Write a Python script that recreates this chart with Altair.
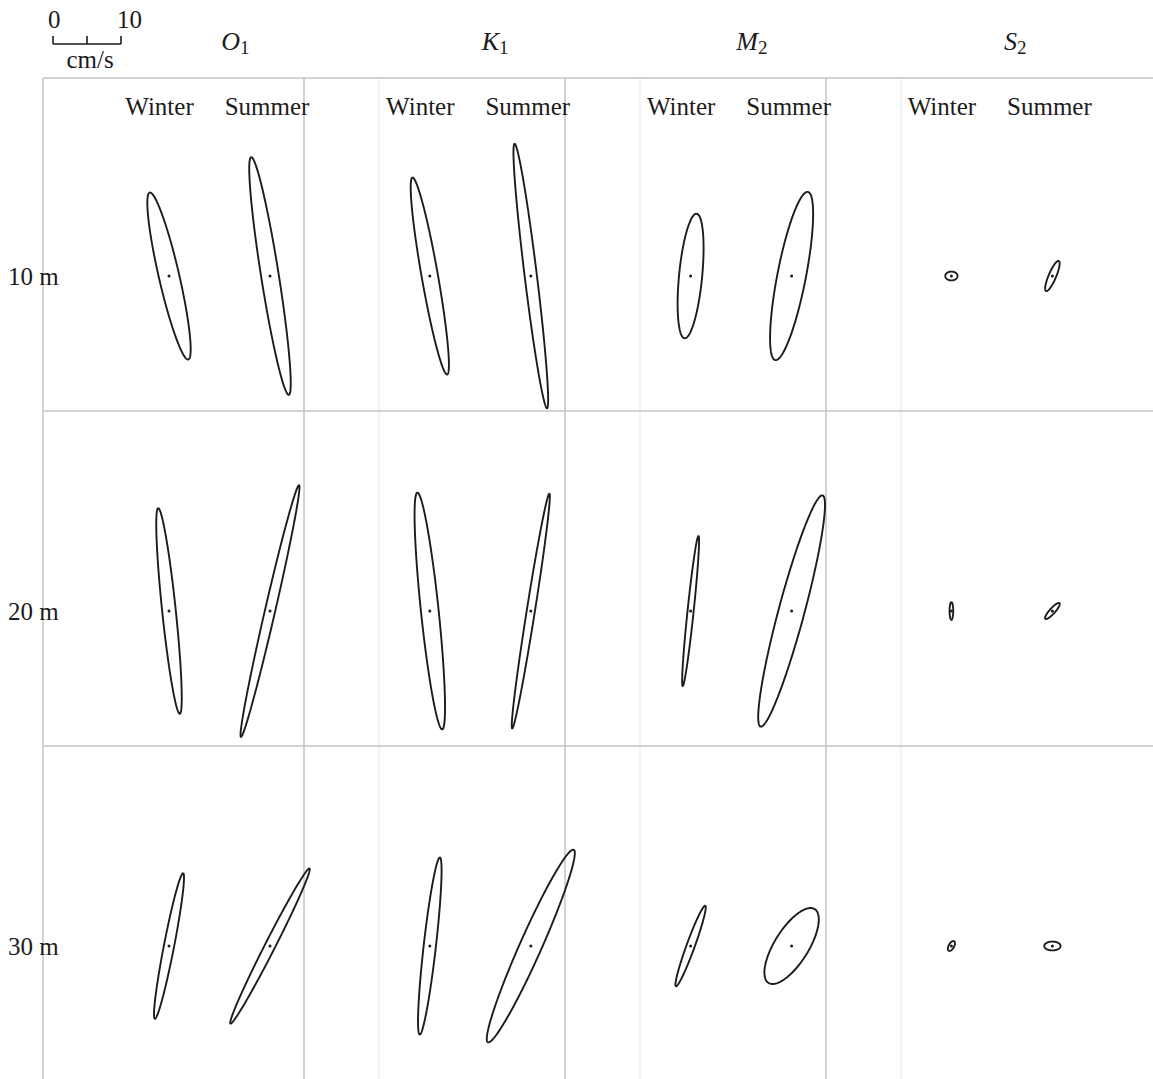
import altair as alt
import pandas as pd

# ---------------------------------------------------------------------------
# Tidal current ellipses: O1, K1, M2, S2 at 10, 20 and 30 m, winter vs summer
# ---------------------------------------------------------------------------
constituents = ["O1", "K1", "M2", "S2"]
title_letters = ["O", "K", "M", "S"]
title_subscripts = ["1", "1", "2", "2"]
depths = ["10 m", "20 m", "30 m"]
seasons = ["Winter", "Summer"]

# semi-major axis (cm/s); rows = depth, columns = O1, K1, M2, S2
major_winter = [
    [12.6, 14.7, 9.2, 0.9],
    [15.2, 17.5, 11.1, 1.3],
    [10.9, 13.1, 6.3, 0.8],
]
major_summer = [
    [17.7, 19.6, 12.6, 2.4],
    [19.0, 17.5, 17.6, 1.55],
    [12.8, 15.5, 6.4, 1.2],
]
# semi-minor axis (cm/s)
minor_winter = [
    [1.5, 1.2, 1.7, 0.65],
    [1.0, 1.3, 0.45, 0.27],
    [0.75, 0.9, 0.6, 0.4],
]
minor_summer = [
    [1.3, 0.9, 2.1, 0.55],
    [0.75, 0.6, 1.9, 0.4],
    [0.75, 1.6, 2.5, 0.65],
]
# inclination of the major axis (degrees, counter-clockwise from east)
incl_winter = [
    [103, 100, 84.5, 0],
    [96, 96, 84, 90],
    [79, 83.5, 70, 61],
]
incl_summer = [
    [99, 97, 79, 67],
    [77, 81, 75, 48],
    [63, 66, 58, 0],
]

# scale bar ticks (cm/s)
scale_ticks = [0, 5, 10]
scale_labels = ["0", "10"]

# ---------------------------------------------------------------------------
# layout (pixels, converted to cm/s so that everything shares one scale)
# ---------------------------------------------------------------------------
W, H = 1153, 1079
PX_PER_CMS = 6.8


def u(px):
    return px / PX_PER_CMS


COL0, COL_STEP, SEASON_STEP = 169.0, 260.8, 101.0
ROW0, ROW_STEP = 276.0, 335.0
GRID_LEFT, GRID_TOP = 43.0, 78.0
INK = "#1e1b1c"
FONT = "Liberation Serif"

xs = alt.Scale(domain=[0, u(W)], nice=False, zero=False)
ys = alt.Scale(domain=[0, u(H)], nice=False, zero=False, reverse=True)

# ellipse parameter table
rows = []
for r, depth in enumerate(depths):
    for i, c in enumerate(constituents):
        for s, season in enumerate(seasons):
            maj = (major_winter, major_summer)[s][r][i]
            mnr = (minor_winter, minor_summer)[s][r][i]
            inc = (incl_winter, incl_summer)[s][r][i]
            rows.append(
                dict(
                    id=f"{c}-{depth}-{season}",
                    constituent=c,
                    depth=depth,
                    season=season,
                    major=maj,
                    minor=mnr,
                    inc=inc,
                    cx=u(COL0 + i * COL_STEP + s * SEASON_STEP),
                    cy=u(ROW0 + r * ROW_STEP),
                )
            )
ell = pd.DataFrame(rows)

outline = (
    alt.Chart(ell)
    .transform_calculate(t="sequence(0, 361, 2)")
    .transform_flatten(["t"])
    .transform_calculate(
        ph="datum.t * PI / 180",
        ang="datum.inc * PI / 180",
    )
    .transform_calculate(
        ex="datum.cx + datum.major * cos(datum.ph) * cos(datum.ang)"
        " - datum.minor * sin(datum.ph) * sin(datum.ang)",
        ey="datum.cy - (datum.major * cos(datum.ph) * sin(datum.ang)"
        " + datum.minor * sin(datum.ph) * cos(datum.ang))",
    )
    .mark_line(color=INK, strokeWidth=1.9, interpolate="linear")
    .encode(
        x=alt.X("ex:Q", scale=xs, axis=None),
        y=alt.Y("ey:Q", scale=ys, axis=None),
        detail="id:N",
        order="t:Q",
    )
)

centers = (
    alt.Chart(ell)
    .mark_circle(color=INK, opacity=1, size=9)
    .encode(x=alt.X("cx:Q", scale=xs, axis=None), y=alt.Y("cy:Q", scale=ys, axis=None))
)

# grid lines
vlines = pd.DataFrame(
    {
        "x": [u(GRID_LEFT + k * 261.0) for k in range(4)],
        "y": u(GRID_TOP),
        "y2": u(H),
    }
)
vfaint = pd.DataFrame(
    {
        "x": [u(379.0 + k * 261.0) for k in range(3)],
        "y": u(GRID_TOP),
        "y2": u(H),
    }
)
hlines = pd.DataFrame(
    {
        "y": [u(GRID_TOP), u(ROW0 + 135.0), u(ROW0 + ROW_STEP + 135.0)],
        "x": u(GRID_LEFT),
        "x2": u(W),
    }
)

faint_rules = (
    alt.Chart(vfaint)
    .mark_rule(color="#efefef", strokeWidth=1.5)
    .encode(x=alt.X("x:Q", scale=xs, axis=None), y=alt.Y("y:Q", scale=ys, axis=None), y2="y2:Q")
)
v_rules = (
    alt.Chart(vlines)
    .mark_rule(color="#c4c4c4", strokeWidth=1.5)
    .encode(x=alt.X("x:Q", scale=xs, axis=None), y=alt.Y("y:Q", scale=ys, axis=None), y2="y2:Q")
)
h_rules = (
    alt.Chart(hlines)
    .mark_rule(color="#c4c4c4", strokeWidth=1.5)
    .encode(x=alt.X("x:Q", scale=xs, axis=None), x2="x2:Q", y=alt.Y("y:Q", scale=ys, axis=None))
)

# season labels above each pair of ellipses
season_rows = []
for i in range(len(constituents)):
    season_rows.append(dict(label="Winter", x=u(COL0 + i * COL_STEP - 9.5), y=u(115)))
    season_rows.append(dict(label="Summer", x=u(COL0 + i * COL_STEP + SEASON_STEP - 3.0), y=u(115)))
season_text = (
    alt.Chart(pd.DataFrame(season_rows))
    .mark_text(font=FONT, fontSize=25, color=INK, align="center", baseline="alphabetic")
    .encode(x=alt.X("x:Q", scale=xs, axis=None), y=alt.Y("y:Q", scale=ys, axis=None), text="label:N")
)

# depth labels on the left
depth_text = (
    alt.Chart(
        pd.DataFrame(
            {"label": depths, "x": u(8), "y": [u(ROW0 + r * ROW_STEP + 9) for r in range(3)]}
        )
    )
    .mark_text(font=FONT, fontSize=25, color=INK, align="left", baseline="alphabetic")
    .encode(x=alt.X("x:Q", scale=xs, axis=None), y=alt.Y("y:Q", scale=ys, axis=None), text="label:N")
)

# constituent titles: italic letter with an upright subscript
title_x = [u(240 + i * 259.0) for i in range(4)]
title_letter = (
    alt.Chart(pd.DataFrame({"label": title_letters, "x": title_x, "y": u(50)}))
    .mark_text(font=FONT, fontSize=26, fontStyle="italic", color=INK, align="right", baseline="alphabetic")
    .encode(x=alt.X("x:Q", scale=xs, axis=None), y=alt.Y("y:Q", scale=ys, axis=None), text="label:N")
)
title_sub = (
    alt.Chart(pd.DataFrame({"label": title_subscripts, "x": title_x, "y": u(54)}))
    .mark_text(font=FONT, fontSize=19, color=INK, align="left", baseline="alphabetic")
    .encode(x=alt.X("x:Q", scale=xs, axis=None), y=alt.Y("y:Q", scale=ys, axis=None), text="label:N")
)

# scale bar: 0-10 cm/s
BAR_X0, BAR_Y = u(53), u(44)
bar_line = (
    alt.Chart(pd.DataFrame({"x": [BAR_X0 + scale_ticks[0]], "x2": [BAR_X0 + scale_ticks[-1]], "y": [BAR_Y]}))
    .mark_rule(color=INK, strokeWidth=1.6)
    .encode(x=alt.X("x:Q", scale=xs, axis=None), x2="x2:Q", y=alt.Y("y:Q", scale=ys, axis=None))
)
bar_ticks = (
    alt.Chart(
        pd.DataFrame({"x": [BAR_X0 + t for t in scale_ticks], "y": BAR_Y - u(8), "y2": BAR_Y})
    )
    .mark_rule(color=INK, strokeWidth=1.6)
    .encode(x=alt.X("x:Q", scale=xs, axis=None), y=alt.Y("y:Q", scale=ys, axis=None), y2="y2:Q")
)
bar_labels = (
    alt.Chart(
        pd.DataFrame(
            {
                "label": scale_labels,
                "x": [BAR_X0 + scale_ticks[0] - u(5), BAR_X0 + scale_ticks[-1] - u(4)],
                "y": u(28),
            }
        )
    )
    .mark_text(font=FONT, fontSize=25, color=INK, align="left", baseline="alphabetic")
    .encode(x=alt.X("x:Q", scale=xs, axis=None), y=alt.Y("y:Q", scale=ys, axis=None), text="label:N")
)
bar_unit = (
    alt.Chart(pd.DataFrame({"label": ["cm/s"], "x": [BAR_X0 + scale_ticks[1] + u(3)], "y": [u(68)]}))
    .mark_text(font=FONT, fontSize=25, color=INK, align="center", baseline="alphabetic")
    .encode(x=alt.X("x:Q", scale=xs, axis=None), y=alt.Y("y:Q", scale=ys, axis=None), text="label:N")
)

chart = (
    alt.layer(
        faint_rules,
        v_rules,
        h_rules,
        outline,
        centers,
        season_text,
        depth_text,
        title_letter,
        title_sub,
        bar_line,
        bar_ticks,
        bar_labels,
        bar_unit,
    )
    .properties(
        width=W,
        height=H,
        padding=0,
        autosize=alt.AutoSizeParams(type="none"),
        background="white",
    )
    .configure_view(strokeWidth=0)
)

chart.save("out.html", embed_options={"renderer": "svg", "actions": False})
